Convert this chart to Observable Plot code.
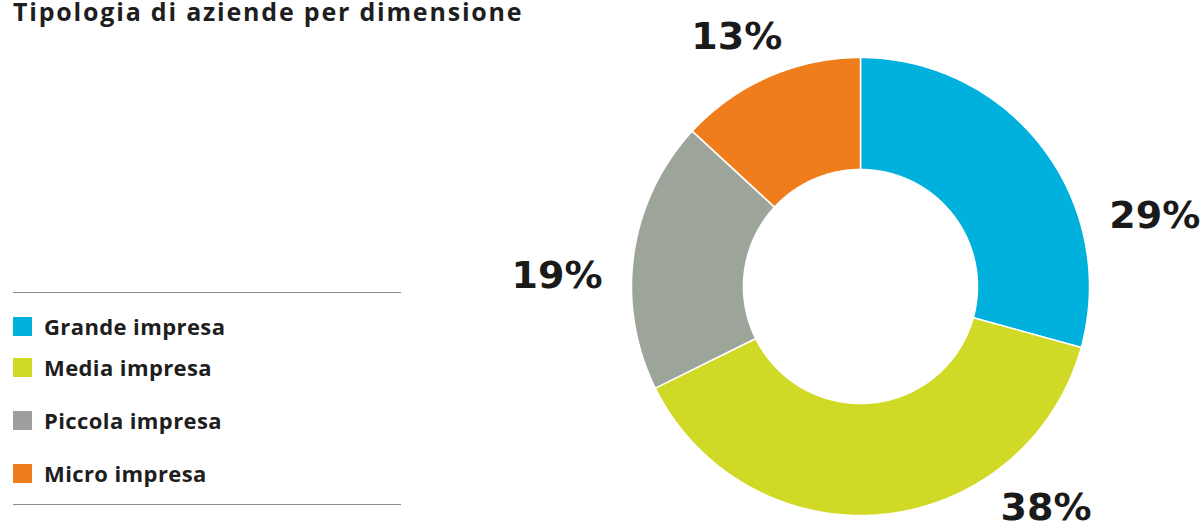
<!DOCTYPE html>
<html>
<head>
<meta charset="utf-8">
<script src="https://cdn.jsdelivr.net/npm/d3@7"></script>
<script src="https://cdn.jsdelivr.net/npm/@observablehq/plot@0.6"></script>
<style>
  html, body { margin: 0; padding: 0; background: #fff; }
  #wrap { position: relative; width: 1201px; height: 524px; overflow: hidden; font-family: "Open Sans", sans-serif; color: #1e1e1e; }
  #chart { position: absolute; left: 0; top: 0; }
  #title { position: absolute; left: 13px; top: -1px; font-size: 25px; line-height: 25px; font-weight: 700; white-space: nowrap; letter-spacing: 1.8px; }
  .rule { position: absolute; left: 13px; width: 388px; height: 0; border-top: 1.6px solid #8a8a8a; }
  .item { position: absolute; left: 13px; height: 20px; display: flex; align-items: center; white-space: nowrap; }
  .sw { width: 19px; height: 19px; margin-right: 12px; flex: none; }
  .lab { font-size: 22px; font-weight: 700; letter-spacing: 0.4px; }
</style>
</head>
<body>
<div id="wrap">
  <div id="chart"></div>
  <div id="title"></div>
  <div class="rule" style="top:292px"></div>
  <div class="rule" style="top:504px"></div>
  <div id="legend"></div>
</div>
<script>
// ---- data ----
const categories = ["Grande impresa", "Media impresa", "Piccola impresa", "Micro impresa"];
const values = [29, 38, 19, 13];
const labels = ["29%", "38%", "19%", "13%"];
const sliceColors = ["#00b1de", "#d0d925", "#9da59a", "#ef7d1b"];
const legendColors = ["#00b1de", "#d0d925", "#9e9e9e", "#ef7d1b"];
const titleText = "Tipologia di aziende per dimensione";

// ---- layout ----
const W = 1201, H = 524;
const cx = 860, cy = 286, R = 229;
const innerRatio = 117 / 229;
// label offsets in radius units from centre (manual placement, as in the original)
const labelOffset = [[1.285, -0.31], [0.81, 0.965], [-1.325, -0.045], [-0.54, -1.09]];
const legendTops = [316, 357, 410, 463];

document.getElementById("title").textContent = titleText;

// build slice polygons from values
const pie = d3.pie().sort(null).value(d => d)(values);
const poly = [];
pie.forEach((p, i) => {
  const a0 = p.startAngle, a1 = p.endAngle;
  const n = Math.max(2, Math.ceil((a1 - a0) / (Math.PI / 360)));
  const pts = [];
  for (let k = 0; k <= n; k++) {
    const a = a0 + (a1 - a0) * k / n;
    pts.push([Math.sin(a), -Math.cos(a)]);
  }
  for (let k = n; k >= 0; k--) {
    const a = a0 + (a1 - a0) * k / n;
    pts.push([innerRatio * Math.sin(a), -innerRatio * Math.cos(a)]);
  }
  pts.push(pts[0]);
  pts.forEach(([x, y]) => poly.push({cat: categories[i], x, y}));
});

const labelData = labels.map((t, i) => ({t, x: labelOffset[i][0], y: labelOffset[i][1]}));

const plot = Plot.plot({
  width: W, height: H,
  margin: 0,
  x: {domain: [-1, 1], range: [cx - R, cx + R], axis: null},
  y: {domain: [-1, 1], range: [cy - R, cy + R], axis: null},
  color: {domain: categories, range: sliceColors},
  marks: [
    Plot.line(poly, {x: "x", y: "y", z: "cat", fill: "cat", stroke: "#ffffff", strokeWidth: 1.5, curve: "linear"}),
    Plot.text(labelData, {x: "x", y: "y", text: "t", fontSize: 38, fontWeight: 900, fontFamily: "DejaVu Sans", fill: "#1a1a1a", lineAnchor: "middle"})
  ]
});
document.getElementById("chart").appendChild(plot);

const leg = document.getElementById("legend");
categories.forEach((c, i) => {
  const d = document.createElement("div");
  d.className = "item";
  d.style.top = legendTops[i] + "px";
  d.innerHTML = `<div class="sw" style="background:${legendColors[i]}"></div><span class="lab">${c}</span>`;
  leg.appendChild(d);
});
</script>
</body>
</html>
